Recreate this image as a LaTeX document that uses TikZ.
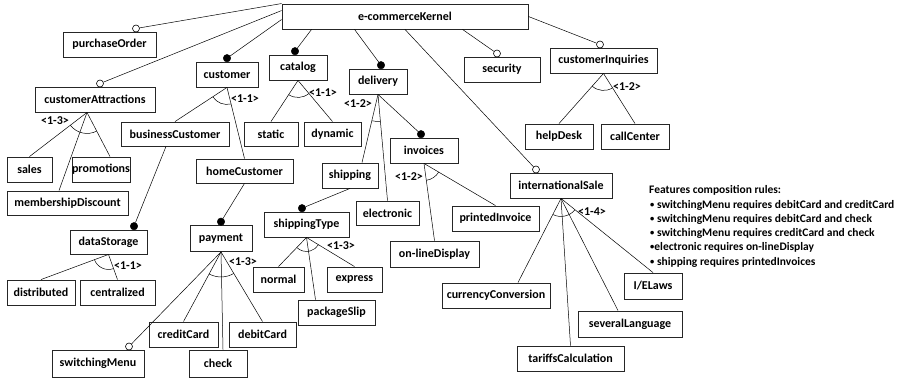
\documentclass[tikz,border=0pt]{standalone}
\usepackage{fontspec}
\setmainfont{Carlito}
\usetikzlibrary{angles}
\newcommand{\rulebullet}{\raisebox{0.6pt}{\fontsize{8.5}{9}\selectfont •}}
\begin{document}
\begin{tikzpicture}[x=1pt,y=-1pt,
  feat/.style={draw=black!85, line width=0.9pt, minimum height=25pt, inner sep=0pt,
    font=\fontsize{12}{13}\selectfont\bfseries},
  link/.style={line width=0.5pt},
  optdot/.style={circle, draw, fill=white, line width=0.6pt, inner sep=0pt, minimum size=7pt},
  mandot/.style={circle, draw, fill=black, inner sep=0pt, minimum size=7.5pt},
  card/.style={font=\fontsize{12}{13}\selectfont\bfseries, inner sep=0pt},
  grp/.style={draw, line width=0.5pt, angle radius=#1},
  ruletext/.style={font=\fontsize{11.5}{13}\selectfont\bfseries, anchor=west, inner sep=0pt}
]
\useasboundingbox (0,0) rectangle (911,381);

% ---- features ----
\node[feat, minimum width=246pt] (kernel) at (405,16.5) {e-commerceKernel};
\node[feat, minimum width=93pt]  (purchaseOrder) at (109.5,44.5) {purchaseOrder};
\node[feat, minimum width=120pt] (customerAttractions) at (95,99.5) {customerAttractions};
\node[feat, minimum width=62pt]  (customer) at (227,74.5) {customer};
\node[feat, minimum width=58pt]  (catalog) at (298,67.5) {catalog};
\node[feat, minimum width=58pt]  (delivery) at (378,81.5) {delivery};
\node[feat, minimum width=76pt]  (security) at (502,69.5) {security};
\node[feat, minimum width=107pt] (customerInquiries) at (603.5,60.5) {customerInquiries};
\node[feat, minimum width=68pt]  (helpDesk) at (559,136.5) {helpDesk};
\node[feat, minimum width=68pt]  (callCenter) at (635,136.5) {callCenter};
\node[feat, minimum width=108pt, minimum height=24pt] (businessCustomer) at (175,134) {businessCustomer};
\node[feat, minimum width=54pt, minimum height=24pt]  (static) at (271,134) {static};
\node[feat, minimum width=57pt, minimum height=24pt]  (dynamic) at (332.5,134) {dynamic};
\node[feat, minimum width=45pt]  (sales) at (29.5,169.5) {sales};
\node[feat, minimum width=54pt]  (promotions) at (101,169.5) {promotions};
\node[feat, minimum width=121pt, minimum height=24pt] (membershipDiscount) at (67.5,203) {membershipDiscount};
\node[feat, minimum width=97pt, minimum height=24pt]  (homeCustomer) at (244.5,171) {homeCustomer};
\node[feat, minimum width=56pt]  (shipping) at (350,175.5) {shipping};
\node[feat, minimum width=68pt]  (invoices) at (424,150.5) {invoices};
\node[feat, minimum width=63pt, minimum height=24pt]  (electronic) at (387.5,213) {electronic};
\node[feat, minimum width=87pt]  (printedInvoice) at (495.5,218.5) {printedInvoice};
\node[feat, minimum width=89pt, minimum height=26pt]  (onlineDisplay) at (434.5,254) {on-lineDisplay};
\node[feat, minimum width=102pt] (internationalSale) at (561,185.5) {internationalSale};
\node[feat, minimum width=85pt]  (shippingType) at (306.5,224.5) {shippingType};
\node[feat, minimum width=51pt]  (normal) at (278.5,279.5) {normal};
\node[feat, minimum width=55pt]  (express) at (354.5,279.5) {express};
\node[feat, minimum width=77pt]  (packageSlip) at (336.5,312.5) {packageSlip};
\node[feat, minimum width=77pt, minimum height=24pt] (dataStorage) at (108.5,242) {dataStorage};
\node[feat, minimum width=62pt, minimum height=26pt] (payment) at (221,238.5) {payment};
\node[feat, minimum width=68pt]  (distributed) at (41,292.5) {distributed};
\node[feat, minimum width=75pt]  (centralized) at (117.5,292.5) {centralized};
\node[feat, minimum width=92pt, minimum height=27pt] (switchingMenu) at (98,363.5) {switchingMenu};
\node[feat, minimum width=69pt]  (creditCard) at (183.5,334.5) {creditCard};
\node[feat, minimum width=58pt, minimum height=27pt] (check) at (218,363.5) {check};
\node[feat, minimum width=67pt]  (debitCard) at (262.5,334.5) {debitCard};
\node[feat, minimum width=108pt] (currencyConversion) at (496,295.5) {currencyConversion};
\node[feat, minimum width=107pt] (tariffsCalculation) at (570.5,358.5) {tariffsCalculation};
\node[feat, minimum width=104pt, minimum height=26pt] (severalLanguage) at (630,324) {severalLanguage};
\node[feat, minimum width=58pt, minimum height=26pt]  (IELaws) at (653,286) {I/ELaws};

% ---- optional (open) and mandatory (filled) markers ----
\node[optdot] (poDot)  at (136,28.5) {};
\node[optdot] (caDot)  at (100,83.5) {};
\node[mandot] (cuDot)  at (227,58.2) {};
\node[mandot] (caTDot) at (295,51.2) {};
\node[mandot] (deDot)  at (381,65.2) {};
\node[optdot] (seDot)  at (497,53.5) {};
\node[optdot] (ciDot)  at (600,44.5) {};
\node[optdot] (isDot)  at (536,169.5) {};
\node[mandot] (inDot)  at (421,134.2) {};
\node[mandot] (stDot)  at (302,208.2) {};
\node[mandot] (dsDot)  at (134,226.2) {};
\node[mandot] (paDot)  at (221,221.7) {};
\node[optdot] (smDot)  at (129,346.5) {};

% ---- links from the root ----
\draw[link] (kernel.north west) -- (poDot);
\draw[link] ([yshift=-7pt]kernel.north west) -- (caDot);
\draw[link] ([yshift=-16pt]kernel.north west) -- (cuDot);
\draw[link] ([xshift=30pt]kernel.south west) -- (caTDot);
\draw[link] ([xshift=73pt]kernel.south west) -- (deDot);
\draw[link] ([xshift=181pt]kernel.south west) -- (seDot);
\draw[link] (kernel.east) -- (ciDot);
\draw[link] (kernel.south) -- (isDot);

% ---- single links ----
\draw[link] (delivery.south) -- (inDot);
\draw[link] (shipping.south) -- (stDot);
\draw[link] ([xshift=-9pt]businessCustomer.south) -- (dsDot);
\draw[link] (homeCustomer.south) -- (paDot);
\draw[link] (payment.south) -- (smDot);

% ---- group apexes and child ends ----
\coordinate (caA) at ([xshift=-8pt]customerAttractions.south);
\coordinate (salesT) at (sales.north);
\coordinate (mdT) at ([xshift=-8.5pt]membershipDiscount.north);
\coordinate (promT) at ([xshift=9pt]promotions.north);

\coordinate (cuA) at (customer.south);
\coordinate (bcT) at (businessCustomer.north);
\coordinate (hcT) at (homeCustomer.north);

\coordinate (ctA) at (catalog.south);
\coordinate (stT) at (static.north);
\coordinate (dyT) at (dynamic.north);

\coordinate (deA) at (delivery.south);
\coordinate (shT) at ([xshift=12pt]shipping.north);
\coordinate (elT) at (electronic.north);

\coordinate (inA) at (invoices.south);
\coordinate (odT) at (onlineDisplay.north);
\coordinate (piT) at (printedInvoice.north);

\coordinate (ciA) at (customerInquiries.south);
\coordinate (hdT) at (helpDesk.north);
\coordinate (ccT) at (callCenter.north);

\coordinate (styA) at (shippingType.south);
\coordinate (noT) at (normal.north);
\coordinate (psT) at ([xshift=-21pt]packageSlip.north);
\coordinate (exT) at (express.north);

\coordinate (dsA) at (dataStorage.south);
\coordinate (diT) at (distributed.north);
\coordinate (ceT) at (centralized.north);

\coordinate (paA) at (payment.south);
\coordinate (crT) at (creditCard.north);
\coordinate (chT) at ([xshift=5pt]check.north);
\coordinate (dbT) at (debitCard.north);

\coordinate (isA) at (internationalSale.south);
\coordinate (ccvT) at ([xshift=22pt]currencyConversion.north);
\coordinate (tcT) at (tariffsCalculation.north);
\coordinate (slT) at ([xshift=-12pt]severalLanguage.north);
\coordinate (ieT) at (IELaws.north);

% ---- group links ----
\draw[link] (caA) -- (salesT);  \draw[link] (caA) -- (mdT);  \draw[link] (caA) -- (promT);
\draw[link] (cuA) -- (bcT);     \draw[link] (cuA) -- (hcT);
\draw[link] (ctA) -- (stT);     \draw[link] (ctA) -- (dyT);
\draw[link] (deA) -- (shT);     \draw[link] (deA) -- (elT);
\draw[link] (inA) -- (odT);     \draw[link] (inA) -- (piT);
\draw[link] (ciA) -- (hdT);     \draw[link] (ciA) -- (ccT);
\draw[link] (styA) -- (noT);    \draw[link] (styA) -- (psT);   \draw[link] (styA) -- (exT);
\draw[link] (dsA) -- (diT);     \draw[link] (dsA) -- (ceT);
\draw[link] (paA) -- (crT);     \draw[link] (paA) -- (chT);    \draw[link] (paA) -- (dbT);
\draw[link] (isA) -- (ccvT);    \draw[link] (isA) -- (tcT);    \draw[link] (isA) -- (slT);   \draw[link] (isA) -- (ieT);

% ---- group arcs ----
\pic[grp=21pt] {angle = salesT--caA--promT};
\pic[grp=17pt] {angle = bcT--cuA--hcT};
\pic[grp=17pt] {angle = stT--ctA--dyT};
\pic[grp=27pt] {angle = shT--deA--elT};
\pic[grp=17pt] {angle = odT--inA--piT};
\pic[grp=17pt] {angle = hdT--ciA--ccT};
\pic[grp=14pt] {angle = noT--styA--exT};
\pic[grp=15pt] {angle = diT--dsA--ceT};
\pic[grp=25pt] {angle = crT--paA--dbT};
\pic[grp=18pt] {angle = ccvT--isA--ieT};

% ---- cardinalities ----
\node[card] (k1) at (55,121) {<1-3>};
\node[card] (k2) at (245,99) {<1-1>};
\node[card] (k3) at (323,93) {<1-1>};
\node[card] (k4) at (358,104) {<1-2>};
\node[card] (k5) at (627,87) {<1-2>};
\node[card] (k6) at (409,177) {<1-2>};
\node[card] (k7) at (341,246) {<1-3>};
\node[card] (k8) at (128,266) {<1-1>};
\node[card] (k9) at (243,262) {<1-3>};
\node[card] (k10) at (592,212) {<1-4>};

% ---- composition rules ----
\node[ruletext] (r0) at (649,190) {Features composition rules:};
\node[ruletext] (r1) at (650,205) {\rulebullet\ switchingMenu requires debitCard and creditCard};
\node[ruletext] (r2) at (650,219) {\rulebullet\ switchingMenu requires debitCard and check};
\node[ruletext] (r3) at (650,233) {\rulebullet\ switchingMenu requires creditCard and check};
\node[ruletext] (r4) at (650,247) {\rulebullet electronic requires on-lineDisplay};
\node[ruletext] (r5) at (650,262) {\rulebullet\ shipping requires printedInvoices};
\end{tikzpicture}
\end{document}
